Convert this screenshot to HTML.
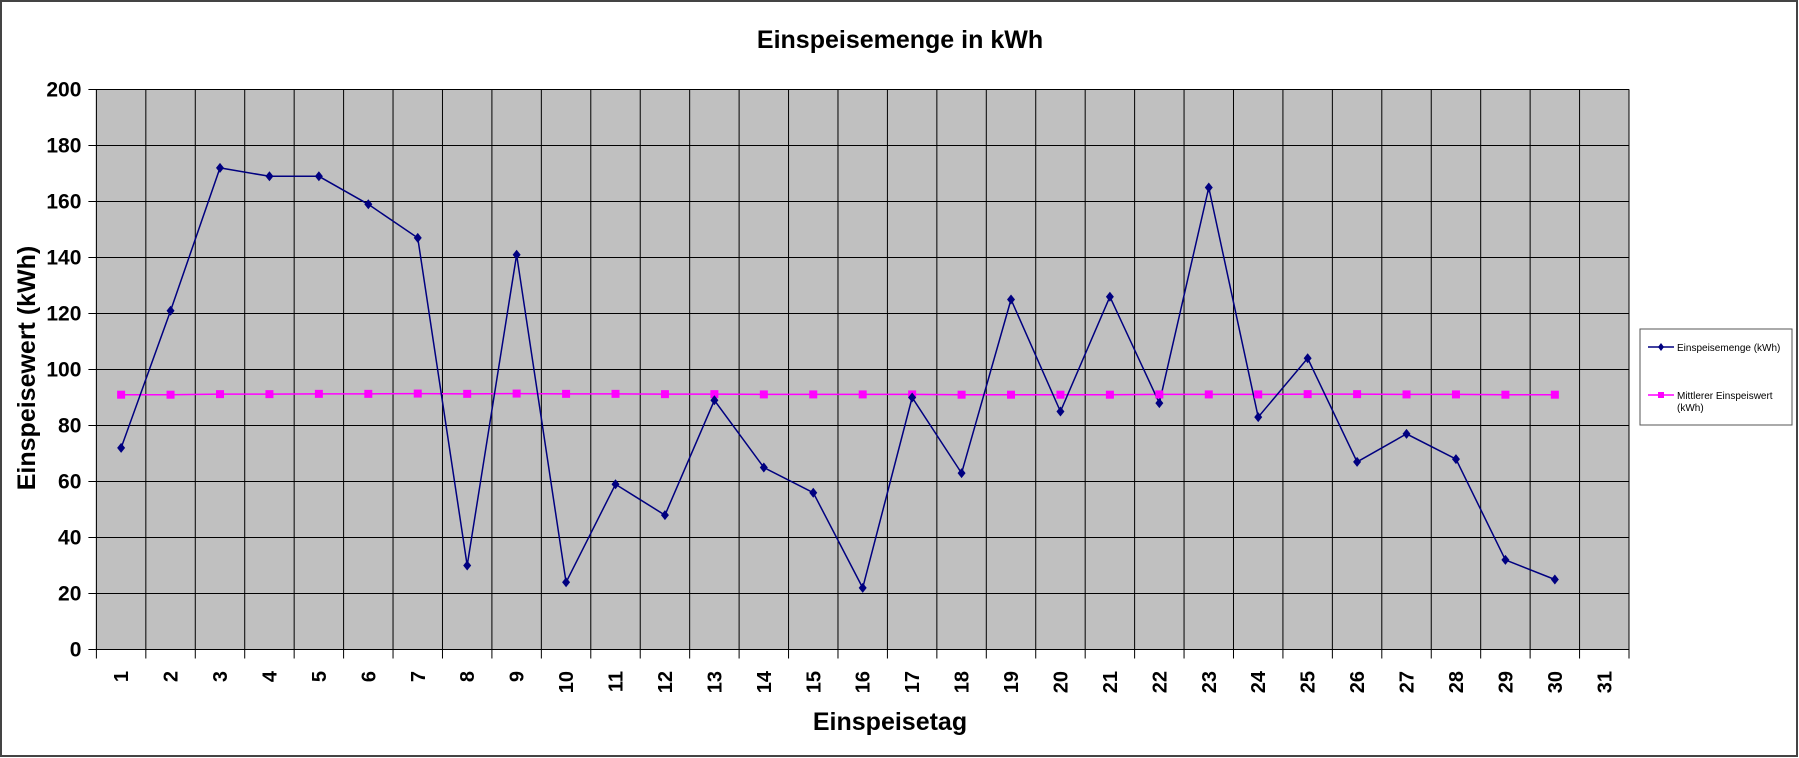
<!DOCTYPE html>
<html><head><meta charset="utf-8"><style>
html,body{margin:0;padding:0;background:#fff}
svg{display:block;font-family:"Liberation Sans",Arial,sans-serif}
</style></head><body>
<svg id="chart" width="1799" height="758" viewBox="0 0 1799 758" xmlns="http://www.w3.org/2000/svg">
<rect x="1" y="1" width="1796" height="755" fill="#fff" stroke="#444" stroke-width="2"/>
<text x="900" y="48" text-anchor="middle" font-size="25" font-weight="bold">Einspeisemenge in kWh</text>
<rect x="96.4" y="89.5" width="1532.6" height="560" fill="#c0c0c0" stroke="#808080"/>
<g id="grid"></g><g id="axes"></g><g id="series"></g>
<text transform="translate(35,368) rotate(-90)" text-anchor="middle" font-size="25" font-weight="bold">Einspeisewert  (kWh)</text>
<text x="890" y="730" text-anchor="middle" font-size="25" font-weight="bold">Einspeisetag</text>
<g>
<rect x="1640" y="329" width="152" height="96" fill="#fff" stroke="#555"/>
<g>
<line x1="1648" y1="347" x2="1674" y2="347" stroke="#000080" stroke-width="1.5"/>
<path d="M1661 343L1664 347L1661 351L1658 347Z" fill="#000080"/>
<text x="1677" y="351" font-size="10">Einspeisemenge (kWh)</text></g>
<g>
<line x1="1648" y1="395" x2="1674" y2="395" stroke="#ff00ff" stroke-width="1.5"/>
<rect x="1658" y="392" width="6" height="6" fill="#ff00ff"/>
<text x="1677" y="399" font-size="10">Mittlerer Einspeiswert</text>
<text x="1677" y="411" font-size="10">(kWh)</text></g>
</g>
</svg>
<script>
const categories=[1,2,3,4,5,6,7,8,9,10,11,12,13,14,15,16,17,18,19,20,21,22,23,24,25,26,27,28,29,30,31];
const einspeisemenge=[72,121,172,169,169,159,147,30,141,24,59,48,89,65,56,22,90,63,125,85,126,88,165,83,104,67,77,68,32,25];
const mittlererWert=[91,91,91.2,91.2,91.3,91.3,91.4,91.3,91.4,91.3,91.3,91.2,91.2,91.1,91.1,91.1,91.1,91,91,91,91,91.1,91.1,91.1,91.2,91.2,91.1,91.1,91,91];
const yTicks=[0,20,40,60,80,100,120,140,160,180,200];
const NS="http://www.w3.org/2000/svg";
const L=96.4,R=1629,T=89.5,B=649.5,yMax=200;
const bw=(R-L)/categories.length;
const xC=i=>L+bw*(i+0.5);
const y=v=>B-(v/yMax)*(B-T);
function mk(t,a,p){const e=document.createElementNS(NS,t);for(const k in a)e.setAttribute(k,a[k]);p.appendChild(e);return e;}
const grid=document.getElementById('grid'),axes=document.getElementById('axes'),ser=document.getElementById('series');
yTicks.forEach(v=>{
 const g=mk('line',{x1:L-8,x2:R,y1:y(v),y2:y(v),stroke:'#000','stroke-width':1},grid);
 
 
 const t=mk('text',{x:L-15,y:y(v)+7,'text-anchor':'end','font-size':21,'font-weight':'bold'},axes);
 
 
 t.textContent=v;
});
for(let i=0;i<=categories.length;i++){
 const x=L+bw*i;
 const g=mk('line',{x1:x,x2:x,y1:T,y2:B+9,stroke:'#000','stroke-width':1},grid);
 
 
}
categories.forEach((c,i)=>{
 const t=mk('text',{transform:`translate(${xC(i)+7},671) rotate(-90)`,'text-anchor':'end','font-size':20,'font-weight':'bold'},axes);
 
 
 t.textContent=c;
});
function line(vals,color,name){
 const p=mk('polyline',{points:vals.map((v,i)=>xC(i)+','+y(v)).join(' '),fill:'none',stroke:color,'stroke-width':1.5},ser);
 
 
}
line(mittlererWert,'#ff00ff','mittlerer-einspeiswert');
line(einspeisemenge,'#000080','einspeisemenge');
mittlererWert.forEach((v,i)=>{
 const r=mk('rect',{x:xC(i)-4,y:y(v)-4,width:8,height:8,fill:'#ff00ff'},ser);
 
 
});
einspeisemenge.forEach((v,i)=>{
 const X=xC(i),Y=y(v);
 const p=mk('path',{d:`M${X} ${Y-5}L${X+4} ${Y}L${X} ${Y+5}L${X-4} ${Y}Z`,fill:'#000080'},ser);
 
 
});
</script>
</body></html>
